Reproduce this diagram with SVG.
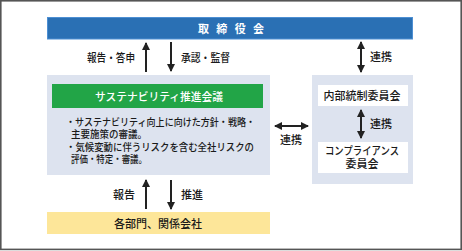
<svg xmlns="http://www.w3.org/2000/svg" width="462" height="251" viewBox="0 0 462 251">
<style>
text{font-family:"Noto Sans CJK JP","Noto Sans",sans-serif;font-size:11px;fill:#1a1a1a}
.w{fill:#fff}
.b{font-weight:bold}
.m{font-weight:500}
.c{text-anchor:middle}
.e{text-anchor:end}
.s{font-size:10px}
.ln{stroke:#222;stroke-width:2;fill:none}
.panel{fill:#dde3ef}
</style>
<defs>
<marker id="ah" viewBox="0 0 8 8" refX="7" refY="4" markerWidth="4" markerHeight="4" orient="auto-start-reverse" markerUnits="strokeWidth">
<path d="M0,0L8,4L0,8z" fill="#222"/>
</marker>
</defs>
<rect x="0.8" y="0.8" width="460.4" height="248.6" fill="#fff" stroke="#555" stroke-width="1.6"/>
<g id="board">
<rect x="47.5" y="17.5" width="365" height="21.5" fill="#2a70b4" stroke="#4d8fd3" stroke-width="1"/>
<text class="w b" x="198" y="32.5" font-size="12" textLength="66" lengthAdjust="spacing">取 締 役 会</text>
</g>
<g id="sustainability">
<rect class="panel" x="47" y="75" width="223" height="100"/>
<rect x="52" y="84" width="211" height="24" fill="#22a547"/>
<text class="w m" x="95" y="100.5" font-size="11.5" textLength="128" lengthAdjust="spacingAndGlyphs">サステナビリティ推進会議</text>
<text class="s m" x="66" y="125.5" textLength="189" lengthAdjust="spacingAndGlyphs">・サステナビリティ向上に向けた方針・戦略・</text>
<text class="s m" x="71" y="138" textLength="76" lengthAdjust="spacingAndGlyphs">主要施策の審議。</text>
<text class="s m" x="66" y="150.5" textLength="188" lengthAdjust="spacingAndGlyphs">・気候変動に伴うリスクを含む全社リスクの</text>
<text class="s m" x="71" y="163" textLength="76" lengthAdjust="spacingAndGlyphs">評価・特定・審議。</text>
</g>
<g id="departments">
<rect x="47" y="212" width="223" height="22" fill="#fde699"/>
<text class="m c" x="158" y="227.5">各部門、関係会社</text>
</g>
<g id="committees">
<rect class="panel" x="312" y="75" width="101" height="109"/>
</g>
<g id="internal-control">
<rect x="318" y="85" width="90" height="21" fill="#fff"/>
<text class="m c" x="362" y="99.5" font-size="10.5">内部統制委員会</text>
</g>
<g id="compliance">
<rect x="318" y="142" width="90" height="31" fill="#fff"/>
<text class="m" x="325" y="155" font-size="10.5" textLength="74" lengthAdjust="spacingAndGlyphs">コンプライアンス</text>
<text class="m c" x="362" y="168" font-size="10.5">委員会</text>
</g>
<g id="connectors">
<line class="ln" x1="146" y1="72" x2="146" y2="43" marker-end="url(#ah)"/>
<line class="ln" x1="171" y1="42" x2="171" y2="71" marker-end="url(#ah)"/>
<line class="ln" x1="146" y1="209" x2="146" y2="180" marker-end="url(#ah)"/>
<line class="ln" x1="171" y1="180" x2="171" y2="209" marker-end="url(#ah)"/>
<line class="ln" x1="361" y1="42" x2="361" y2="72" marker-start="url(#ah)" marker-end="url(#ah)"/>
<line class="ln" x1="361" y1="110" x2="361" y2="138" marker-start="url(#ah)" marker-end="url(#ah)"/>
<line class="ln" x1="275" y1="126" x2="308" y2="126" marker-start="url(#ah)" marker-end="url(#ah)"/>
<text class="m" x="87" y="62" textLength="48" lengthAdjust="spacingAndGlyphs">報告・答申</text>
<text class="m" x="181" y="62" textLength="49" lengthAdjust="spacingAndGlyphs">承認・監督</text>
<text class="m e" x="135" y="199">報告</text>
<text class="m" x="181" y="199">推進</text>
<text class="m" x="370" y="61">連携</text>
<text class="m" x="370" y="128">連携</text>
<text class="m c" x="291" y="144">連携</text>
</g>
</svg>
